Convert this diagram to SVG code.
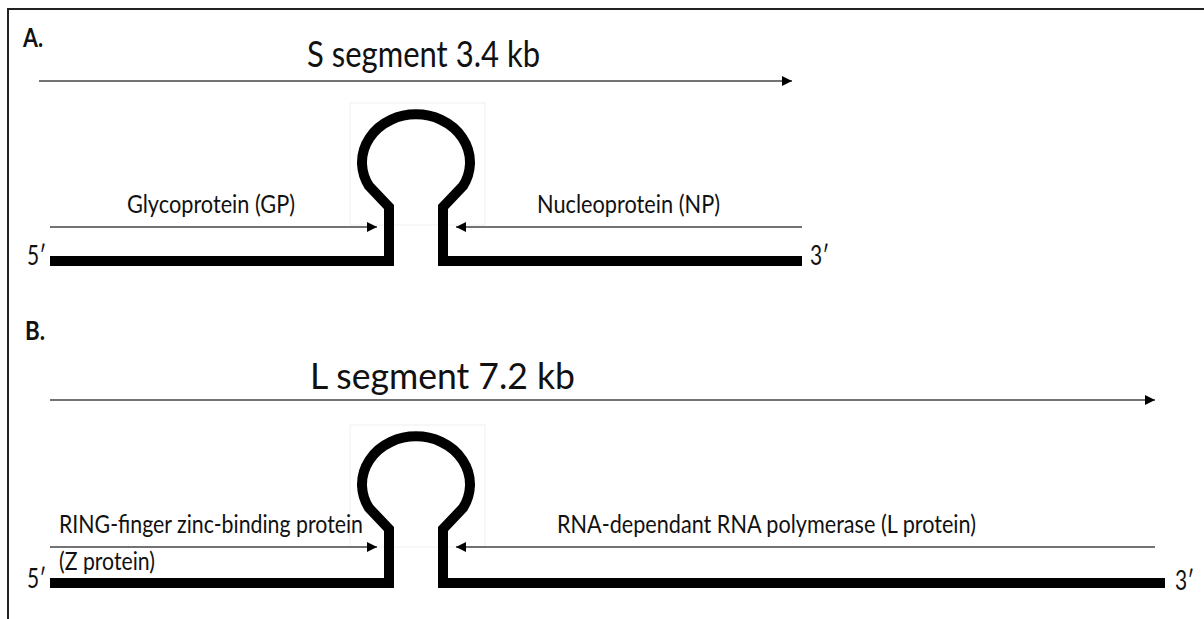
<svg xmlns="http://www.w3.org/2000/svg" width="1204" height="619" viewBox="0 0 1204 619">
  <style>
    .lbl { font-family: "Lato", "Open Sans", "Liberation Sans", sans-serif; fill: #111; }
    .head { font-size: 37px; }
    .txt { font-size: 25px; }
    .end { font-size: 27px; }
    .tag { font-size: 26px; font-weight: bold; }
    .strand { fill: none; stroke: #000; stroke-width: 10; stroke-linejoin: miter; }
    .orf { fill: none; stroke: #444; stroke-width: 1.6; marker-end: url(#tip); }
    .box { fill: none; stroke: #f0f0f0; stroke-width: 1; }
  </style>
  <defs>
    <marker id="tip" viewBox="0 0 10 10" refX="10" refY="5" markerWidth="10" markerHeight="10" markerUnits="userSpaceOnUse" orient="auto">
      <path d="M0,0 L10,5 L0,10 Z" fill="#000"/>
    </marker>
  </defs>
  <rect width="1204" height="619" fill="#fff"/>
  <!-- frame -->
  <path d="M8,619 V9 H1204" fill="none" stroke="#222" stroke-width="2"/>

  <g id="panel-a">
    <text class="lbl tag" x="23" y="47" textLength="20" lengthAdjust="spacingAndGlyphs">A.</text>
    <text class="lbl head" x="307" y="67" textLength="233" lengthAdjust="spacingAndGlyphs">S segment 3.4 kb</text>
    <!-- S RNA strand with the intergenic hairpin -->
    <g id="s-strand">
      <rect class="box" x="350" y="103" width="135" height="122"/>
      <path class="strand" d="M50,261 H389 V207 L369,186 A54,48 0 1 1 463,186 L443,207 V261 H802"/>
      <text class="lbl end" x="27" y="265" textLength="19" lengthAdjust="spacingAndGlyphs">5′</text>
      <text class="lbl end" x="810" y="265" textLength="19" lengthAdjust="spacingAndGlyphs">3′</text>
    </g>
    <g id="gp-label">
      <text class="lbl txt" x="127" y="213" textLength="168" lengthAdjust="spacingAndGlyphs">Glycoprotein (GP)</text>
    </g>
    <g id="np-label">
      <text class="lbl txt" x="537" y="213" textLength="183" lengthAdjust="spacingAndGlyphs">Nucleoprotein (NP)</text>
    </g>
  </g>

  <g id="panel-b">
    <text class="lbl tag" x="25" y="340" textLength="20" lengthAdjust="spacingAndGlyphs">B.</text>
    <text class="lbl head" x="310" y="389" textLength="265" lengthAdjust="spacingAndGlyphs">L segment 7.2 kb</text>
    <!-- L RNA strand with the intergenic hairpin -->
    <g id="l-strand">
      <rect class="box" x="350" y="425" width="135" height="122"/>
      <path class="strand" d="M50,583 H389 V529 L369,508 A54,48 0 1 1 463,508 L443,529 V583 H1165"/>
      <text class="lbl end" x="27" y="588" textLength="19" lengthAdjust="spacingAndGlyphs">5′</text>
      <text class="lbl end" x="1175" y="590" textLength="19" lengthAdjust="spacingAndGlyphs">3′</text>
    </g>
    <g id="z-label">
      <text class="lbl txt" x="59" y="533" textLength="304" lengthAdjust="spacingAndGlyphs">RING-finger zinc-binding protein</text>
      <text class="lbl txt" x="59" y="570" textLength="96" lengthAdjust="spacingAndGlyphs">(Z protein)</text>
    </g>
    <g id="lp-label">
      <text class="lbl txt" x="557" y="533" textLength="419" lengthAdjust="spacingAndGlyphs">RNA-dependant RNA polymerase (L protein)</text>
    </g>
  </g>

  <g id="connectors">
    <line class="orf" x1="39" y1="81" x2="792" y2="81"/>
    <line class="orf" x1="50" y1="227" x2="377" y2="227"/>
    <line class="orf" x1="802" y1="227" x2="456" y2="227"/>
    <line class="orf" x1="50" y1="400" x2="1155" y2="400"/>
    <line class="orf" x1="50" y1="547" x2="377" y2="547"/>
    <line class="orf" x1="1155" y1="547" x2="456" y2="547"/>
  </g>
</svg>
